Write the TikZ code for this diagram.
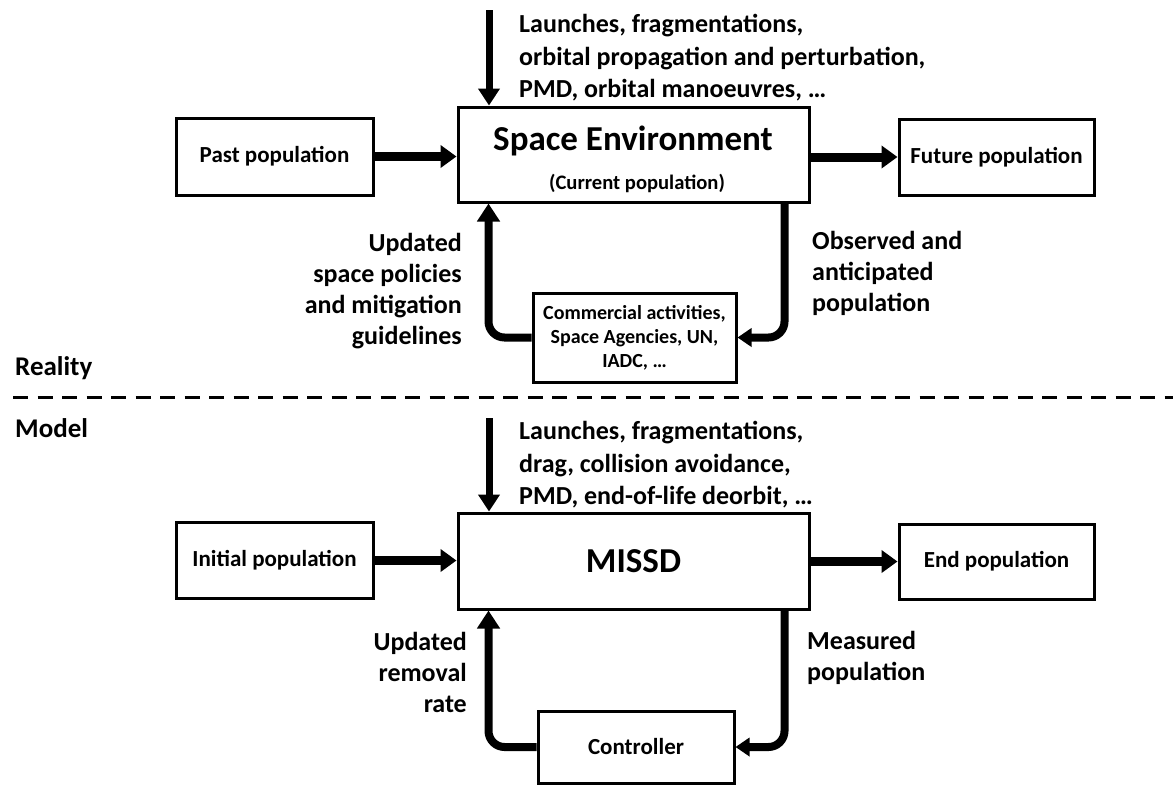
\documentclass[tikz,border=0pt]{standalone}
\usepackage{fontspec}
\setmainfont{Carlito}
\usetikzlibrary{arrows.meta,calc}
\begin{document}
\begin{tikzpicture}[x=1pt,y=-1pt,
  box/.style={draw,line width=3pt,rectangle,inner sep=0pt},
  boxtext/.style={font=\fontsize{23}{27}\selectfont\bfseries},
  lbl/.style={inner sep=0pt,font=\fontsize{26}{31}\selectfont\bfseries},
  toplbl/.style={lbl,font=\fontsize{26}{32.5}\selectfont\bfseries},
  flow/.style={line width=9pt,-{Triangle[length=16pt,width=22pt]}},
  feed/.style={line width=7pt,-{Triangle[length=17pt,width=21pt]}},
  fb/.style={line width=8pt,rounded corners=16pt},
  fbin/.style={fb,-{Triangle[length=14pt,width=18pt]}},
  sep/.style={line width=3pt,dash pattern=on 15pt off 9.5pt}]
\useasboundingbox (0,0) rectangle (1173,785);

% ---------- Reality ----------
\node[box,minimum width=197pt,minimum height=77pt,boxtext] (past) at (274.5,156.5) {Past population};
\node[box,minimum width=351pt,minimum height=95pt] (se) at (633.5,154.5) {};
\node[inner sep=0pt,font=\fontsize{35}{40}\selectfont\bfseries] (setitle) at (633,141) {Space Environment};
\node[inner sep=0pt,font=\fontsize{20.6}{24}\selectfont\bfseries] (sesub) at (637,183) {(Current population)};
\node[box,minimum width=195pt,minimum height=76pt,boxtext] (future) at (996.5,157) {Future population};
\node[box,minimum width=203pt,minimum height=89pt,align=center,font=\fontsize{20}{24}\selectfont\bfseries] (actors) at (634.5,337.5)
  {Commercial activities,\\Space Agencies, UN,\\IADC, \dots};

\coordinate (srcA) at (489,10);
\draw[feed] (srcA) -- (srcA |- se.north);
\node[toplbl,anchor=west,align=left] (inA) at (519,58)
  {Launches, fragmentations,\\orbital propagation and perturbation,\\PMD, orbital manoeuvres, \dots};

\draw[flow] (past.east) -- (past.east -| se.west);
\draw[flow] (future.west -| se.east) -- (future.west);

\coordinate (seL) at ($(se.south west)+(32,0)$);
\coordinate (seR) at ($(se.south east)+(-26,0)$);
\draw[fb,-{Triangle[length=18pt,width=22pt]}] (actors.west) -| (seL);
\draw[fbin] (seR) |- (actors.east);

\node[lbl,anchor=east,align=right] (policy) at (462,291)
  {Updated\\space policies\\and mitigation\\guidelines};
\node[lbl,anchor=west,align=left] (observed) at (812,273)
  {Observed and\\anticipated\\population};

\node[lbl,anchor=west,font=\fontsize{27}{31}\selectfont\bfseries] (reality) at (15,368) {Reality};
\draw[sep] (13,397) coordinate (sepL) -- (1173,397) coordinate (sepR);
\node[lbl,anchor=west,font=\fontsize{27}{31}\selectfont\bfseries] (model) at (15,428) {Model};

% ---------- Model ----------
\node[box,minimum width=197pt,minimum height=76pt,boxtext] (init) at (274.5,560.5) {Initial population};
\node[box,minimum width=351pt,minimum height=96pt,font=\fontsize{35}{40}\selectfont\bfseries] (missd) at (633.5,561) {MISSD};
\node[box,minimum width=195pt,minimum height=75pt,boxtext] (endp) at (996.5,561.5) {End population};
\node[box,minimum width=196pt,minimum height=72pt,boxtext] (ctrl) at (636,747) {Controller};

\coordinate (srcB) at (489,418);
\draw[feed] (srcB) -- (srcB |- missd.north);
\node[toplbl,anchor=west,align=left] (inB) at (519,465)
  {Launches, fragmentations,\\drag, collision avoidance,\\PMD, end-of-life deorbit, \dots};

\draw[flow] (init.east) -- (init.east -| missd.west);
\draw[flow] (endp.west -| missd.east) -- (endp.west);

\coordinate (mL) at ($(missd.south west)+(32,0)$);
\coordinate (mR) at ($(missd.south east)+(-26,0)$);
\draw[fb,-{Triangle[length=18pt,width=22pt]}] (ctrl.west) -| (mL);
\draw[fbin] (mR) |- (ctrl.east);

\node[lbl,anchor=east,align=right] (removal) at (467,672)
  {Updated\\removal\\rate};
\node[lbl,anchor=west,align=left] (measured) at (807,658)
  {Measured\\population};
\end{tikzpicture}
\end{document}
